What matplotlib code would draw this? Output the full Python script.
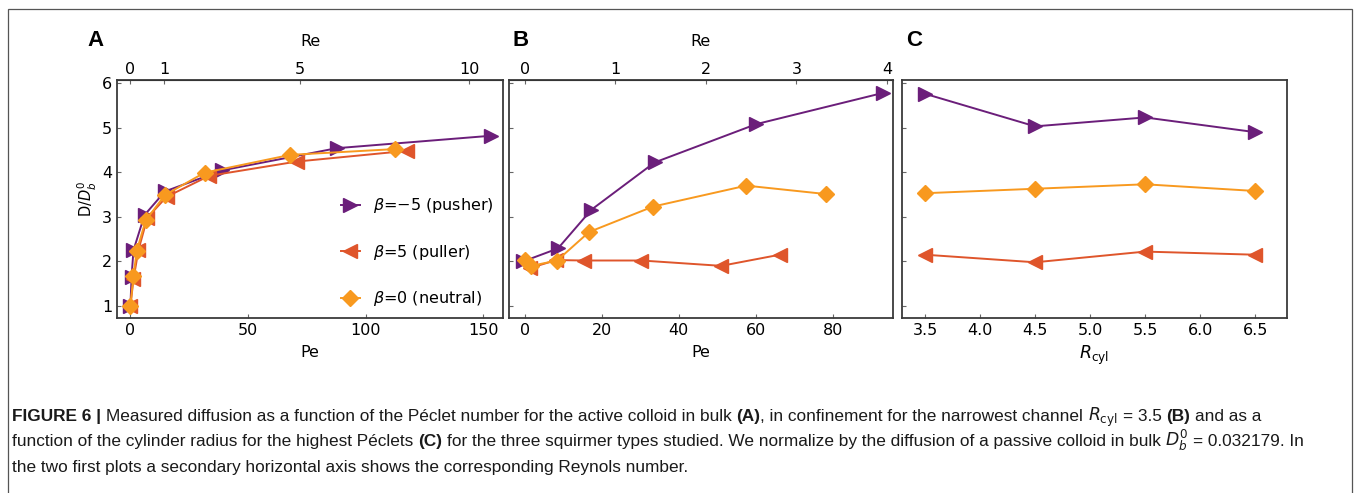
import matplotlib
import matplotlib.pyplot as plt
from matplotlib.patches import Rectangle

matplotlib.use("Agg")

# bulk, D/D_b^0 vs Pe
pe_push_a = [0, 0.5, 1.3, 6, 14.7, 38.8, 87.7, 153.5]
d_push_a = [1.0, 1.66, 2.25, 3.04, 3.57, 4.04, 4.54, 4.82]
pe_pull_a = [0, 1.3, 3.4, 7.2, 15.4, 33.5, 70.7, 117.4]
d_pull_a = [1.0, 1.6, 2.25, 2.98, 3.45, 3.92, 4.24, 4.48]
pe_neut_a = [0, 1.3, 2.7, 6.5, 14.7, 31.5, 67.9, 112.5]
d_neut_a = [1.0, 1.67, 2.24, 2.92, 3.49, 3.99, 4.39, 4.52]

# narrowest channel R_cyl = 3.5
pe_push_b = [-0.4, 8.6, 17.3, 33.7, 60.1, 93.0]
d_push_b = [2.0, 2.29, 3.16, 4.22, 5.08, 5.78]
pe_pull_b = [1.3, 8.2, 15.4, 30.3, 51.0, 66.2]
d_pull_b = [1.85, 2.03, 2.02, 2.02, 1.9, 2.15]
pe_neut_b = [0, 1.7, 8.4, 16.7, 33.3, 57.5, 78.3]
d_neut_b = [2.03, 1.9, 2.02, 2.66, 3.23, 3.70, 3.51]

# highest Pe vs cylinder radius
r_cyl = [3.5, 4.5, 5.5, 6.5]
d_push_c = [5.76, 5.03, 5.23, 4.90]
d_pull_c = [2.15, 1.98, 2.22, 2.15]
d_neut_c = [3.53, 3.63, 3.73, 3.58]

re_ticks_a = [0, 1, 5, 10]
re_ticks_b = [0, 1, 2, 3, 4]
pe_ticks_a = [0, 50, 100, 150]
pe_ticks_b = [0, 20, 40, 60, 80]
r_ticks = [3.5, 4.0, 4.5, 5.0, 5.5, 6.0, 6.5]
d_ticks = [1, 2, 3, 4, 5, 6]

PURPLE = "#6b1e7a"
RED = "#df552b"
ORANGE = "#f8991f"
SPINE = "#3a3a3a"
TICK_FS = 11.5

labels = [r"$\beta$=$-$5 (pusher)", r"$\beta$=5 (puller)", r"$\beta$=0 (neutral)"]
styles = [
    dict(color=PURPLE, marker=">", ms=10),
    dict(color=RED, marker="<", ms=10),
    dict(color=ORANGE, marker="D", ms=8),
]

W, H = 1356, 493
fig = plt.figure(figsize=(W / 100, H / 100), dpi=100)


def px_axes(left, right, top=80, bottom=318):
    return fig.add_axes([left / W, 1 - bottom / H, (right - left) / W, (bottom - top) / H])


def style_axes(ax):
    for sp in ax.spines.values():
        sp.set_color(SPINE)
        sp.set_linewidth(1.3)
    ax.tick_params(direction="in", length=3, width=0.8, color="#666666",
                   labelsize=TICK_FS, top=False, right=False)
    ax.set_ylim(0.73, 6.07)
    ax.set_yticks(d_ticks)


def draw_series(ax, xs, ys):
    handles = []
    for x, y, st, lab in zip(xs, ys, styles, labels):
        h, = ax.plot(x, y, lw=1.4, mec=st["color"], label=lab, **st)
        handles.append(h)
    return handles


def add_re_axis(ax, ratio, ticks):
    sec = ax.secondary_xaxis("top", functions=(lambda p: p / ratio, lambda r: r * ratio))
    sec.set_xticks(ticks)
    sec.tick_params(direction="in", length=3, width=0.8, color="#666666",
                    labelsize=TICK_FS, pad=2)
    sec.set_xlabel("Re", fontsize=TICK_FS, labelpad=12)
    return sec


ax_a = px_axes(117, 503)
ax_b = px_axes(509, 893)
ax_c = px_axes(902, 1287)

# panel A
handles = draw_series(ax_a, [pe_push_a, pe_pull_a, pe_neut_a], [d_push_a, d_pull_a, d_neut_a])
style_axes(ax_a)
ax_a.set_xlim(-5.7, 158.4)
ax_a.set_xticks(pe_ticks_a)
ax_a.set_xlabel("Pe", fontsize=TICK_FS, labelpad=5)
ax_a.set_ylabel(r"D/$D_b^0$", fontsize=10.5, labelpad=2)
add_re_axis(ax_a, 14.4, re_ticks_a)
ax_a.legend(handles=handles, loc="lower right", frameon=False, fontsize=TICK_FS,
            handlelength=1.2, labelspacing=1.72, handletextpad=0.8,
            borderaxespad=0.2, bbox_to_anchor=(1.0, 0.0))

# panel B
draw_series(ax_b, [pe_push_b, pe_pull_b, pe_neut_b], [d_push_b, d_pull_b, d_neut_b])
style_axes(ax_b)
ax_b.set_xlim(-4.1, 95.6)
ax_b.set_xticks(pe_ticks_b)
ax_b.tick_params(labelleft=False)
ax_b.set_xlabel("Pe", fontsize=TICK_FS, labelpad=5)
add_re_axis(ax_b, 23.5, re_ticks_b)

# panel C
draw_series(ax_c, [r_cyl] * 3, [d_push_c, d_pull_c, d_neut_c])
style_axes(ax_c)
ax_c.set_xlim(3.29, 6.79)
ax_c.set_xticks(r_ticks)
ax_c.set_xticklabels([f"{v:.1f}" for v in r_ticks])
ax_c.tick_params(labelleft=False)
ax_c.set_xlabel(r"$R_{\mathrm{cyl}}$", fontsize=12.5, labelpad=4)

for lab, x in zip("ABC", [95, 521, 914]):
    fig.text(x / W, 1 - 40 / H, lab, fontsize=16, fontweight="bold",
             family="Liberation Sans", ha="center", va="center")

# frame round the whole figure
fig.add_artist(Rectangle((8 / W, -0.05), (1352 - 8) / W, 1.05 - 9 / H,
                         transform=fig.transFigure, fill=False,
                         ec="#555555", lw=0.9))

# caption, written piece by piece so bold and math parts can be mixed
CAP_FAMILY = ["Liberation Sans", "DejaVu Sans"]
CAP_FS = 12.4
caption = [
    [("FIGURE 6 |", "bold", True),
     ("Measured diffusion as a function of the Péclet number for the active colloid in bulk", "normal", True),
     ("(A)", "bold", False),
     (", in confinement for the narrowest channel", "normal", True),
     (r"$R_{\rm cyl}$", "normal", True),
     ("= 3.5", "normal", True),
     ("(B)", "bold", True),
     ("and as a", "normal", False)],
    [("function of the cylinder radius for the highest Péclets", "normal", True),
     ("(C)", "bold", True),
     ("for the three squirmer types studied. We normalize by the diffusion of a passive colloid in bulk", "normal", True),
     (r"$D_b^0$", "normal", True),
     ("= 0.032179. In", "normal", False)],
    [("the two first plots a secondary horizontal axis shows the corresponding Reynols number.", "normal", False)],
]
renderer = fig.canvas.get_renderer()


def text_width(s, weight="normal"):
    t = fig.text(0, 0, s, fontsize=CAP_FS, family=CAP_FAMILY, weight=weight)
    w = t.get_window_extent(renderer).width
    t.remove()
    return w


space = text_width("a a") - text_width("aa")
for row, baseline in zip(caption, [421, 446, 472]):
    x = 12
    for s, weight, gap in row:
        t = fig.text(x / W, 1 - baseline / H, s, fontsize=CAP_FS, family=CAP_FAMILY,
                     weight=weight, va="baseline", color="#1a1a1a")
        x += t.get_window_extent(renderer).width + (space if gap else 0)

fig.savefig("out.png", dpi=100)
